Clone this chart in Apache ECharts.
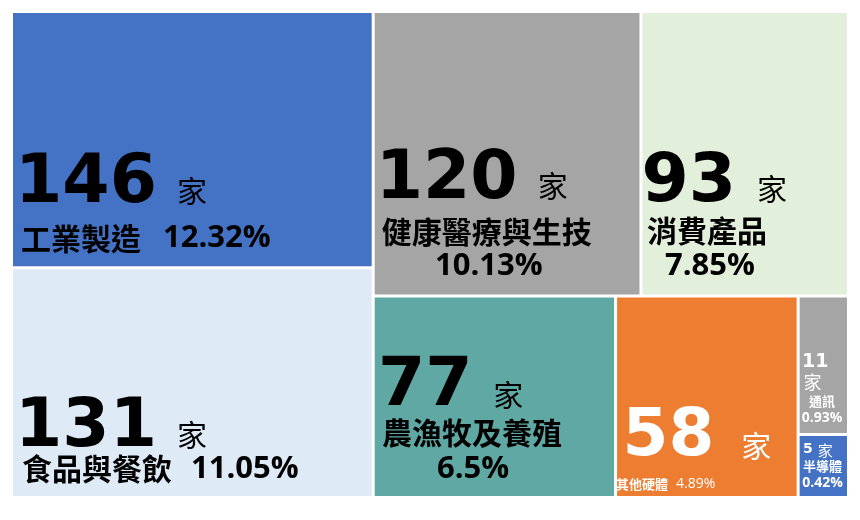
<!DOCTYPE html>
<html><head><meta charset="utf-8">
<script src="https://cdn.jsdelivr.net/npm/echarts@6/dist/echarts.min.js"></script>
<style>html,body{margin:0;padding:0;background:#fff}#c{width:860px;height:520px}</style>
</head><body><div id="c"></div>
<script>
// ---- data ----
const names = ['工業製造','食品與餐飲','健康醫療與生技','消費產品','農漁牧及養殖','其他硬體','通訊','半導體'];
const counts = [146,131,120,93,77,58,11,5];
const shares = ['12.32%','11.05%','10.13%','7.85%','6.5%','4.89%','0.93%','0.42%'];
const unitText = '家';
const colors = ['#4472C4','#DEEAF6','#A5A5A5','#E2EFDA','#60A8A4','#ED7D31','#A5A5A5','#4472C4'];

// ---- label presentation (styles only) ----
const NUM = "'DejaVu Sans', sans-serif";
const CJK = "'Noto Sans CJK TC', sans-serif";
const PCT = "'Open Sans', sans-serif";
// num: [fontSize, lineHeight, padLeft, padTop]; unit: [fontSize, padTop, padLeft, lineHeight]
// name / pct: [fontSize, lineHeight, padLeft]
const labelStyles = [
  {kind:'A', color:'#000', pad:[125.5,0,0,-3], num:[68,80,5,12], unit:[30,24,20], name:[30,40,11], pct:[31,40,22]},
  {kind:'A', color:'#000', pad:[120.8,0,0,-3], num:[68,62,5,14], unit:[30,28,20], name:[30,34,12], pct:[31,34,19]},
  {kind:'B', color:'#000', pad:[120.25,32.5,0,-4], num:[68,81.5,5,12], unit:[30,24,20], name:[30,34.5,11], pct:[31,34.5,0]},
  {kind:'B', color:'#000', pad:[127.75,66.5,0,-3], num:[68,72.5,2,12], unit:[30,23,21], name:[30,35.5,7.5], pct:[31,35.5,0]},
  {kind:'B', color:'#000', pad:[48.35,44,0,1.3], num:[68,68.5,2,14], unit:[30,29,20.5], name:[30,36.5,6], pct:[31,36.5,0]},
  {kind:'A', color:'#fff', pad:[96.6,0,0,-1], num:[66,80,6.4,8], unit:[30,24,27], name:[13,20,0], pct:[14,20,8], pctW:'normal'},
  {kind:'D', color:'#fff', pad:[51.6,5,0,2.3], num:[19,22,0,4], unit:[18,0,1.5,22], name:[13,17,0], pct:[14,16,0]},
  {kind:'E', color:'#fff', pad:[5.55,5,0,3.3], num:[14,16.5,0,0], unit:[15,0,5,16.5], name:[13,16.5,0], pct:[14,16.5,0]}
];

function buildLabel(i) {
  const s = labelStyles[i];
  const c = s.color;
  const pw = s.pctW || 'bold';
  let fmt;
  if (s.kind === 'A') fmt = `{num|${counts[i]}}{unit|${unitText}}\n{name|${names[i]}}{pct|${shares[i]}}`;
  else if (s.kind === 'B') fmt = `{num|${counts[i]}}{unit|${unitText}}\n{name|${names[i]}}\n{pctc|${shares[i]}}`;
  else if (s.kind === 'D') fmt = `{num|${counts[i]}}\n{unit|${unitText}}\n{namec|${names[i]}}\n{pctc|${shares[i]}}`;
  else fmt = `{num|${counts[i]}}{unit|${unitText}}\n{namec|${names[i]}}\n{pctc|${shares[i]}}`;
  const unit = {fontFamily: CJK, fontWeight: 'normal', fontSize: s.unit[0], color: c,
    padding: [s.unit[1], 0, 0, s.unit[2]], align: 'left', verticalAlign: 'middle'};
  if (s.unit[3]) unit.lineHeight = s.unit[3];
  return {
    show: true, position: 'insideTopLeft', distance: 0, overflow: 'none',
    padding: s.pad, formatter: fmt, color: c,
    rich: {
      num: {fontFamily: NUM, fontWeight: 'bold', fontSize: s.num[0], lineHeight: s.num[1], color: c,
        padding: [s.num[3], 0, 0, s.num[2]], align: 'left', verticalAlign: 'middle'},
      unit: unit,
      name: {fontFamily: CJK, fontWeight: 'bold', fontSize: s.name[0], lineHeight: s.name[1], color: c,
        padding: [0, 0, 0, s.name[2]], align: 'left', verticalAlign: 'middle'},
      namec: {fontFamily: CJK, fontWeight: 'bold', fontSize: s.name[0], lineHeight: s.name[1], color: c,
        align: 'center', verticalAlign: 'middle'},
      pct: {fontFamily: PCT, fontWeight: pw, fontSize: s.pct[0], lineHeight: s.pct[1], color: c,
        padding: [0, 0, 0, s.pct[2]], align: 'left', verticalAlign: 'middle'},
      pctc: {fontFamily: PCT, fontWeight: pw, fontSize: s.pct[0], lineHeight: s.pct[1], color: c,
        align: 'center', verticalAlign: 'middle'}
    }
  };
}

const seriesData = names.map((n, i) => ({
  name: n,
  value: counts[i],
  itemStyle: {color: colors[i]},
  label: buildLabel(i)
}));

const chart = echarts.init(document.getElementById('c'), null, {renderer: 'canvas'});
chart.setOption({
  animation: false,
  backgroundColor: '#fff',
  series: [{
    type: 'treemap',
    left: 13, top: 13, right: 13, bottom: 24,
    roam: false,
    nodeClick: false,
    breadcrumb: {show: false},
    squareRatio: 0.5 * (1 + Math.sqrt(5)),
    levels: [{itemStyle: {borderWidth: 0, gapWidth: 3, borderColor: '#fff'}}],
    itemStyle: {borderWidth: 0, borderColor: '#fff'},
    emphasis: {disabled: true},
    data: seriesData
  }]
});
</script>
</body></html>
